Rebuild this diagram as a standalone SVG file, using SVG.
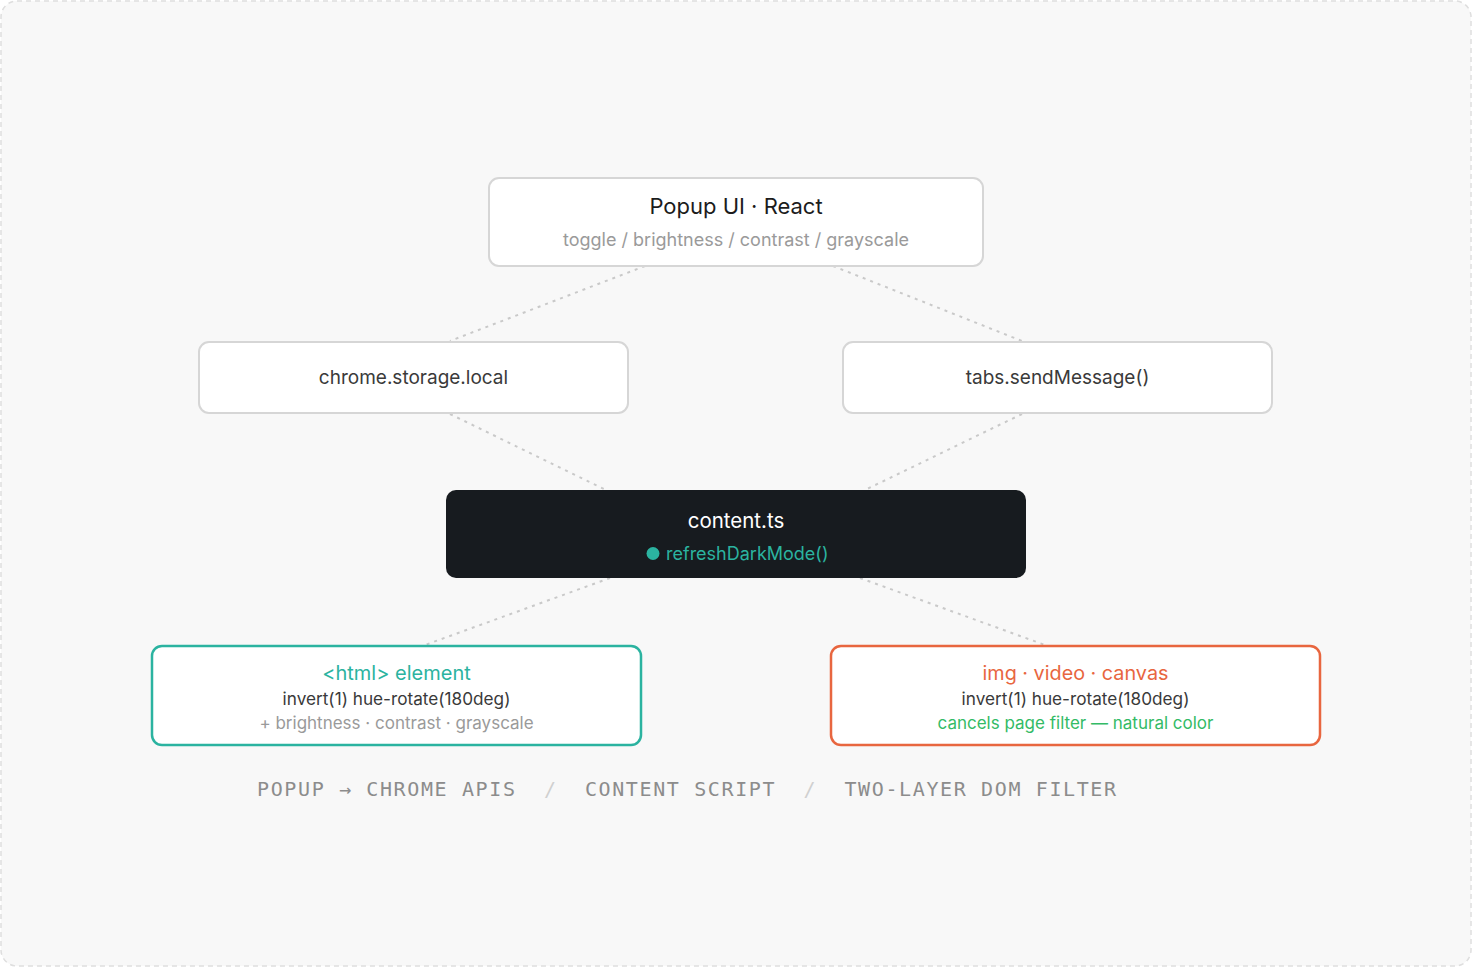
<svg xmlns="http://www.w3.org/2000/svg" width="1472" height="967" viewBox="0 0 1472 967">
<style>
.box{fill:#ffffff;stroke:#d6d6d6;stroke-width:2}
.t{font-family:Inter,"Noto Sans","Liberation Sans",sans-serif;text-anchor:middle}
.conn line{stroke:#c9c9c9;stroke-width:2;stroke-dasharray:3 5;fill:none}
.legend{font-family:"DejaVu Sans Mono","Liberation Mono",monospace;font-size:20px;letter-spacing:1.62px;fill:#8c8c8c}
</style>
<rect x="1" y="1" width="1470" height="965" rx="16" fill="#f8f8f8" stroke="#dedede" stroke-width="1.5" stroke-dasharray="5 4"/>
<g id="connectors" class="conn">
  <line x1="645" y1="266" x2="450" y2="341"/>
  <line x1="833" y1="266" x2="1022" y2="341"/>
  <line x1="450" y1="414" x2="606" y2="490"/>
  <line x1="1022" y1="414" x2="865" y2="490"/>
  <line x1="610" y1="578" x2="425" y2="645"/>
  <line x1="860" y1="578" x2="1045" y2="645"/>
</g>
<g id="popup">
  <rect class="box" x="489" y="178" width="494" height="88" rx="10"/>
  <text class="t" x="736" y="214" font-size="22" fill="#1c1c1c">Popup UI · React</text>
  <text class="t" x="736" y="246" font-size="18" fill="#9a9a9a">toggle / brightness / contrast / grayscale</text>
</g>
<g id="storage">
  <rect class="box" x="199" y="342" width="429" height="71" rx="10"/>
  <text class="t" x="413.5" y="384" font-size="19" fill="#3a3a3a">chrome.storage.local</text>
</g>
<g id="tabs">
  <rect class="box" x="843" y="342" width="429" height="71" rx="10"/>
  <text class="t" x="1057.5" y="384" font-size="19" fill="#3a3a3a">tabs.sendMessage()</text>
</g>
<g id="content">
  <rect x="446" y="490" width="580" height="88" rx="10" fill="#171b1f"/>
  <text class="t" x="736" y="528" font-size="20.5" fill="#ffffff">content.ts</text>
  <circle cx="653" cy="553.5" r="6.5" fill="#2bb3a0"/>
  <text x="666" y="560" font-family="Inter,'Noto Sans','Liberation Sans',sans-serif" font-size="18" fill="#2bb3a0">refreshDarkMode()</text>
</g>
<g id="html">
  <rect x="152" y="646" width="489" height="99" rx="10" fill="#ffffff" stroke="#2bb3a0" stroke-width="2.5"/>
  <text class="t" x="396.5" y="680" font-size="20" fill="#2bb3a0">&lt;html&gt; element</text>
  <text class="t" x="396.5" y="705" font-size="17.2" fill="#3a3a3a">invert(1) hue-rotate(180deg)</text>
  <text class="t" x="396.5" y="729" font-size="17" fill="#9a9a9a">+ brightness · contrast · grayscale</text>
</g>
<g id="media">
  <rect x="831" y="646" width="489" height="99" rx="10" fill="#ffffff" stroke="#e8663f" stroke-width="2.5"/>
  <text class="t" x="1075.5" y="680" font-size="19.8" fill="#e8663f">img · video · canvas</text>
  <text class="t" x="1075.5" y="705" font-size="17.2" fill="#3a3a3a">invert(1) hue-rotate(180deg)</text>
  <text class="t" x="1075.5" y="729" font-size="17" fill="#33bb66">cancels page filter — natural color</text>
</g>
<g id="legend">
  <text class="legend" x="257" y="796" xml:space="preserve">POPUP → CHROME APIS  <tspan fill="#d0d0d0">/</tspan>  CONTENT SCRIPT  <tspan fill="#d0d0d0">/</tspan>  TWO-LAYER DOM FILTER</text>
</g>
</svg>
